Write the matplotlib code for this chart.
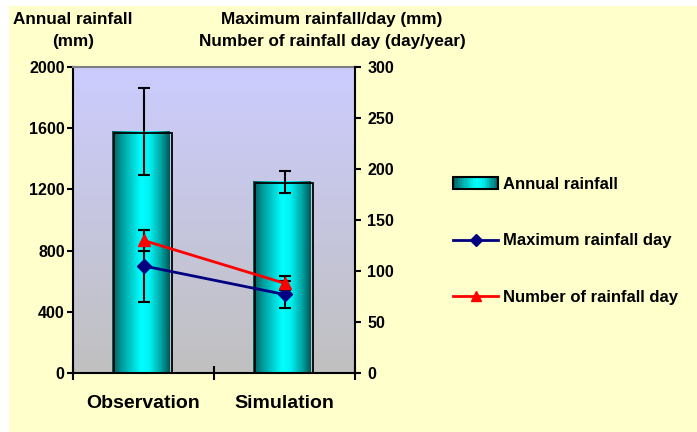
import numpy as np
import matplotlib
matplotlib.use('Agg')
import matplotlib.pyplot as plt
from matplotlib.patches import Rectangle
from matplotlib.lines import Line2D
from matplotlib.colors import LinearSegmentedColormap
from matplotlib.legend_handler import HandlerBase
import matplotlib.transforms as mtransforms

plt.rcParams['font.family'] = ['Liberation Sans', 'DejaVu Sans']
plt.rcParams['font.weight'] = 'bold'

#Data
categories = ['Observation', 'Simulation']
annual_rain = [1580, 1250]        #mm
annual_err = [285, 73]
max_rain_day = [105, 77]          #mm
max_rain_err = [35, 13]
n_rain_days = [130, 88]           #day/year
n_rain_err = [10, 7]

bar_cmap = LinearSegmentedColormap.from_list('cyl', [
    (0.0, '#005a5a'), (0.18, '#00a0a0'), (0.5, '#00ffff'),
    (0.65, '#00f2f2'), (0.85, '#00a4a4'), (1.0, '#005858')])
bg_cmap = LinearSegmentedColormap.from_list('bg', ['#c0c0c0', '#ccccff'])

fig = plt.figure(figsize=(6.97, 4.32), dpi=100, facecolor='white')
#Yellow chart area
fig.patches.append(Rectangle((9/697, 0), 1, 1 - 6/432, transform=fig.transFigure,
                             facecolor='#ffffcc', edgecolor='none', zorder=-10))

ax = fig.add_axes([73/697, 1 - 373/432, 282/697, 306/432])
ax.set_facecolor('none')
ax.imshow(np.linspace(0, 1, 256).reshape(-1, 1), cmap=bg_cmap, origin='lower',
          extent=[0, 1, 0, 1], transform=ax.transAxes, aspect='auto', zorder=0)

x = np.arange(len(categories))
width = 0.41
grad = np.linspace(0, 1, 128).reshape(1, -1)
shift = mtransforms.offset_copy(ax.transData, fig=fig, x=2, y=-1.5, units='dots')
for xi, h in zip(x, annual_rain):
    ax.imshow(grad, cmap=bar_cmap, extent=[xi - width/2 - 0.015, xi + width/2 - 0.015, 0, h],
              aspect='auto', zorder=2)
    ax.add_patch(Rectangle((xi - width/2 - 0.015, 0), width, h, transform=shift,
                           facecolor='none', edgecolor='black', lw=1.3, zorder=3))
ax.errorbar(x, annual_rain, yerr=annual_err, fmt='none', ecolor='black',
            elinewidth=1.5, capsize=4.5, capthick=1.5, zorder=4)

ax.set_xlim(-0.5, 1.5)
ax.set_ylim(0, 2000)
ax.set_yticks(np.arange(0, 2001, 400))
ax.set_xticks([-0.5, 0.5, 1.5])
ax.set_xticklabels([])
ax.set_xticks(x, minor=True)
ax.set_xticklabels(categories, minor=True, fontsize=14, fontweight='bold')
ax.tick_params(axis='x', which='minor', length=0, pad=16)
ax.tick_params(axis='x', which='major', direction='inout', length=10, width=1.5)
ax.tick_params(axis='y', length=4, width=1.5, pad=2, labelsize=11.5)
for lab in ax.get_yticklabels():
    lab.set_fontweight('bold')
ax.spines['left'].set_linewidth(1.5)
ax.spines['bottom'].set_linewidth(1.5)
ax.spines['top'].set_color('#808080')
ax.spines['top'].set_linewidth(1.5)
ax.spines['right'].set_visible(False)

ax2 = ax.twinx()
ax2.set_ylim(0, 300)
ax2.set_yticks(np.arange(0, 301, 50))
ax2.tick_params(axis='y', length=4, width=1.5, pad=5, labelsize=11.5)
for lab in ax2.get_yticklabels():
    lab.set_fontweight('bold')
ax2.spines['right'].set_linewidth(1.5)
for s in ['top', 'left', 'bottom']:
    ax2.spines[s].set_visible(False)

ax2.errorbar(x, max_rain_day, yerr=max_rain_err, fmt='none', ecolor='black',
             elinewidth=1.5, capsize=4.5, capthick=1.5, zorder=4)
ax2.errorbar(x, n_rain_days, yerr=n_rain_err, fmt='none', ecolor='black',
             elinewidth=1.5, capsize=4.5, capthick=1.5, zorder=4)
ax2.plot(x, max_rain_day, color='#000080', lw=2, marker='D', ms=7, zorder=5)
ax2.plot(x, n_rain_days, color='#ff0000', lw=2, marker='^', ms=9, zorder=5)

#Axis titles
fig.text(73/697, 1 - 30.5/432, 'Annual rainfall\n(mm)', ha='center', va='center',
         fontsize=12.3, fontweight='bold', linespacing=1.6)
fig.text(332/697, 1 - 30.5/432, 'Maximum rainfall/day (mm)\nNumber of rainfall day (day/year)',
         ha='center', va='center', fontsize=12.3, fontweight='bold', linespacing=1.6)

#Legend with a gradient bar handle
class GradientBarHandler(HandlerBase):
    def create_artists(self, legend, orig_handle, xdescent, ydescent, width, height, fontsize, trans):
        arts = []
        n = 20
        y0 = height/2 - 4
        for i in range(n):
            c = bar_cmap((i + 0.5)/n)
            arts.append(Rectangle((-xdescent + width*i/n, y0), width/n, 8, facecolor=c,
                                  edgecolor='none', transform=trans))
        arts.append(Rectangle((-xdescent, y0), width, 8, facecolor='none',
                              edgecolor='black', lw=1.5, transform=trans))
        return arts

bar_handle = Rectangle((0, 0), 1, 1)
h_max = Line2D([], [], color='#000080', lw=2, marker='D', ms=6)
h_num = Line2D([], [], color='#ff0000', lw=2, marker='^', ms=7)
fig.legend([bar_handle, h_max, h_num],
           ['Annual rainfall', 'Maximum rainfall day', 'Number of rainfall day'],
           handler_map={Rectangle: GradientBarHandler()},
           loc='center left', bbox_to_anchor=(453/697, 1 - 241/432),
           frameon=False, borderpad=0, borderaxespad=0, handlelength=2.7,
           handletextpad=0.3, labelspacing=2.5, prop={'weight': 'bold', 'size': 12})

fig.savefig('out.png', dpi=100, facecolor=fig.get_facecolor())
